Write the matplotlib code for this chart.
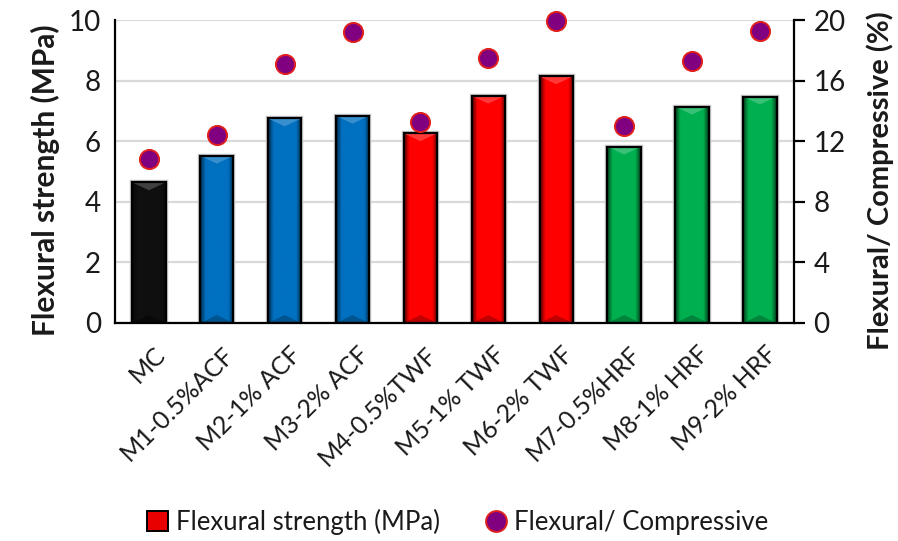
import numpy as np
import matplotlib
matplotlib.use("Agg")
import matplotlib.pyplot as plt
import matplotlib.transforms as mtransforms
from matplotlib.colors import to_rgb
from matplotlib.patches import Rectangle, Polygon, Patch
from matplotlib.lines import Line2D

plt.rcParams["font.family"] = ["Lato", "DejaVu Sans"]

samples = ["MC", "M1-0.5%ACF", "M2-1% ACF", "M3-2% ACF", "M4-0.5%TWF",
           "M5-1% TWF", "M6-2% TWF", "M7-0.5%HRF", "M8-1% HRF", "M9-2% HRF"]
flexural = [4.64, 5.52, 6.75, 6.84, 6.26, 7.50, 8.14, 5.82, 7.14, 7.47]
flex_comp_ratio = [10.8, 12.4, 17.1, 19.2, 13.3, 17.5, 19.95, 13.0, 17.3, 19.3]
fiber_group = ["plain", "ACF", "ACF", "ACF", "TWF", "TWF", "TWF", "HRF", "HRF", "HRF"]

group_colors = {"plain": "#0a0a0a", "ACF": "#0070c0", "TWF": "#ff0000", "HRF": "#00b050"}
text_color = "#1a1a1a"


def shade(rgb, f):
    rgb = np.array(rgb)
    if f >= 0:
        return tuple(rgb + (1 - rgb) * f)
    return tuple(rgb * (1 + f))


def bevel_bar(ax, x, height, width, color, bevel=0.26):
    """Bar with darkened sides and a light chevron on top, like an Excel bevel."""
    base = np.array(to_rgb(color))
    x0, x1 = x - width / 2, x + width / 2
    t = np.linspace(0, 1, 60)
    d = np.minimum(t, 1 - t)
    k = 0.35 + 0.65 * np.clip(d / 0.16, 0, 1)
    img = (base[None, :] * k[:, None])[None, :, :]
    if color == "#0a0a0a":
        img = np.clip(img + 0.02, 0, 1)
    ax.imshow(img, extent=[x0, x1, 0, height], aspect="auto",
              interpolation="bilinear", zorder=2)
    ax.add_patch(Polygon([[x0, height], [x1, height], [x, height - bevel]],
                         closed=True, facecolor=shade(base, 0.22), edgecolor="none", zorder=2.5))
    ax.add_patch(Polygon([[x0, 0], [x1, 0], [x, bevel]],
                         closed=True, facecolor=shade(base, -0.25), edgecolor="none", zorder=2.5))
    # soft grey halo then black outline
    ax.add_patch(Rectangle((x0, 0), width, height, fill=False, edgecolor="#c8c8c8",
                           linewidth=3.2, zorder=1.9))
    ax.add_patch(Rectangle((x0, 0), width, height, fill=False, edgecolor="black",
                           linewidth=1.6, zorder=3))


fig = plt.figure(figsize=(8.98, 5.41), dpi=100)
ax = fig.add_axes([0.128, 0.403, 0.756, 0.560])

x = np.arange(len(samples))
bar_w = 0.49
for xi, h, g in zip(x, flexural, fiber_group):
    bevel_bar(ax, xi, h, bar_w, group_colors[g])

ax.set_xlim(-0.5, len(samples) - 0.5)
ax.set_ylim(0, 10)
ax.set_yticks(np.arange(0, 11, 2))
ax.yaxis.grid(True, color="#d9d9d9", linewidth=1.6)
ax.set_axisbelow(True)
ax.tick_params(axis="y", length=0, labelsize=20, labelcolor=text_color, pad=10)
ax.set_xticks(x)
ax.set_xticklabels(samples, rotation=45, ha="right", va="top",
                   rotation_mode="anchor", fontsize=18, color=text_color)
ax.tick_params(axis="x", length=0, pad=14)
shift = mtransforms.ScaledTranslation(5 / 100, 0, fig.dpi_scale_trans)
for lbl in ax.get_xticklabels():
    lbl.set_transform(lbl.get_transform() + shift)
ax.set_ylabel("Flexural strength (MPa)", fontsize=21.5, fontweight="bold",
              color=text_color, labelpad=6)
ax.yaxis.label.set_y(0.47)
for side in ["top", "right"]:
    ax.spines[side].set_visible(False)
for side in ["left", "bottom"]:
    ax.spines[side].set_linewidth(1.6)
    ax.spines[side].set_color("black")

ax2 = ax.twinx()
ax2.set_ylim(0, 20)
ax2.set_yticks(np.arange(0, 21, 4))
ax2.scatter(x, flex_comp_ratio, s=190, color="#800080", edgecolor="#e0201c",
            linewidth=1.4, zorder=5, clip_on=False)
ax2.tick_params(axis="y", direction="out", length=8, width=1.6,
                labelsize=20, labelcolor=text_color, pad=6)
ax2.set_ylabel("Flexural/ Compressive (%)", fontsize=21, fontweight="bold",
               color=text_color, labelpad=15)
ax2.yaxis.label.set_y(0.47)
for side in ["top", "left", "bottom"]:
    ax2.spines[side].set_visible(False)
ax2.spines["right"].set_linewidth(1.6)

handles = [
    Patch(facecolor="#e80000", edgecolor="black", linewidth=1.4),
    Line2D([], [], marker="o", linestyle="none", markersize=15,
           markerfacecolor="#800080", markeredgecolor="#e0201c", markeredgewidth=1.4),
]
fig.legend(handles, ["Flexural strength (MPa)", "Flexural/ Compressive"],
           loc="center", bbox_to_anchor=(0.51, 0.035), ncol=2, frameon=False,
           fontsize=18.5, handlelength=0.8, handleheight=0.8, handletextpad=0.3,
           columnspacing=1.8, labelcolor=text_color)

fig.savefig("out.png", dpi=100)
